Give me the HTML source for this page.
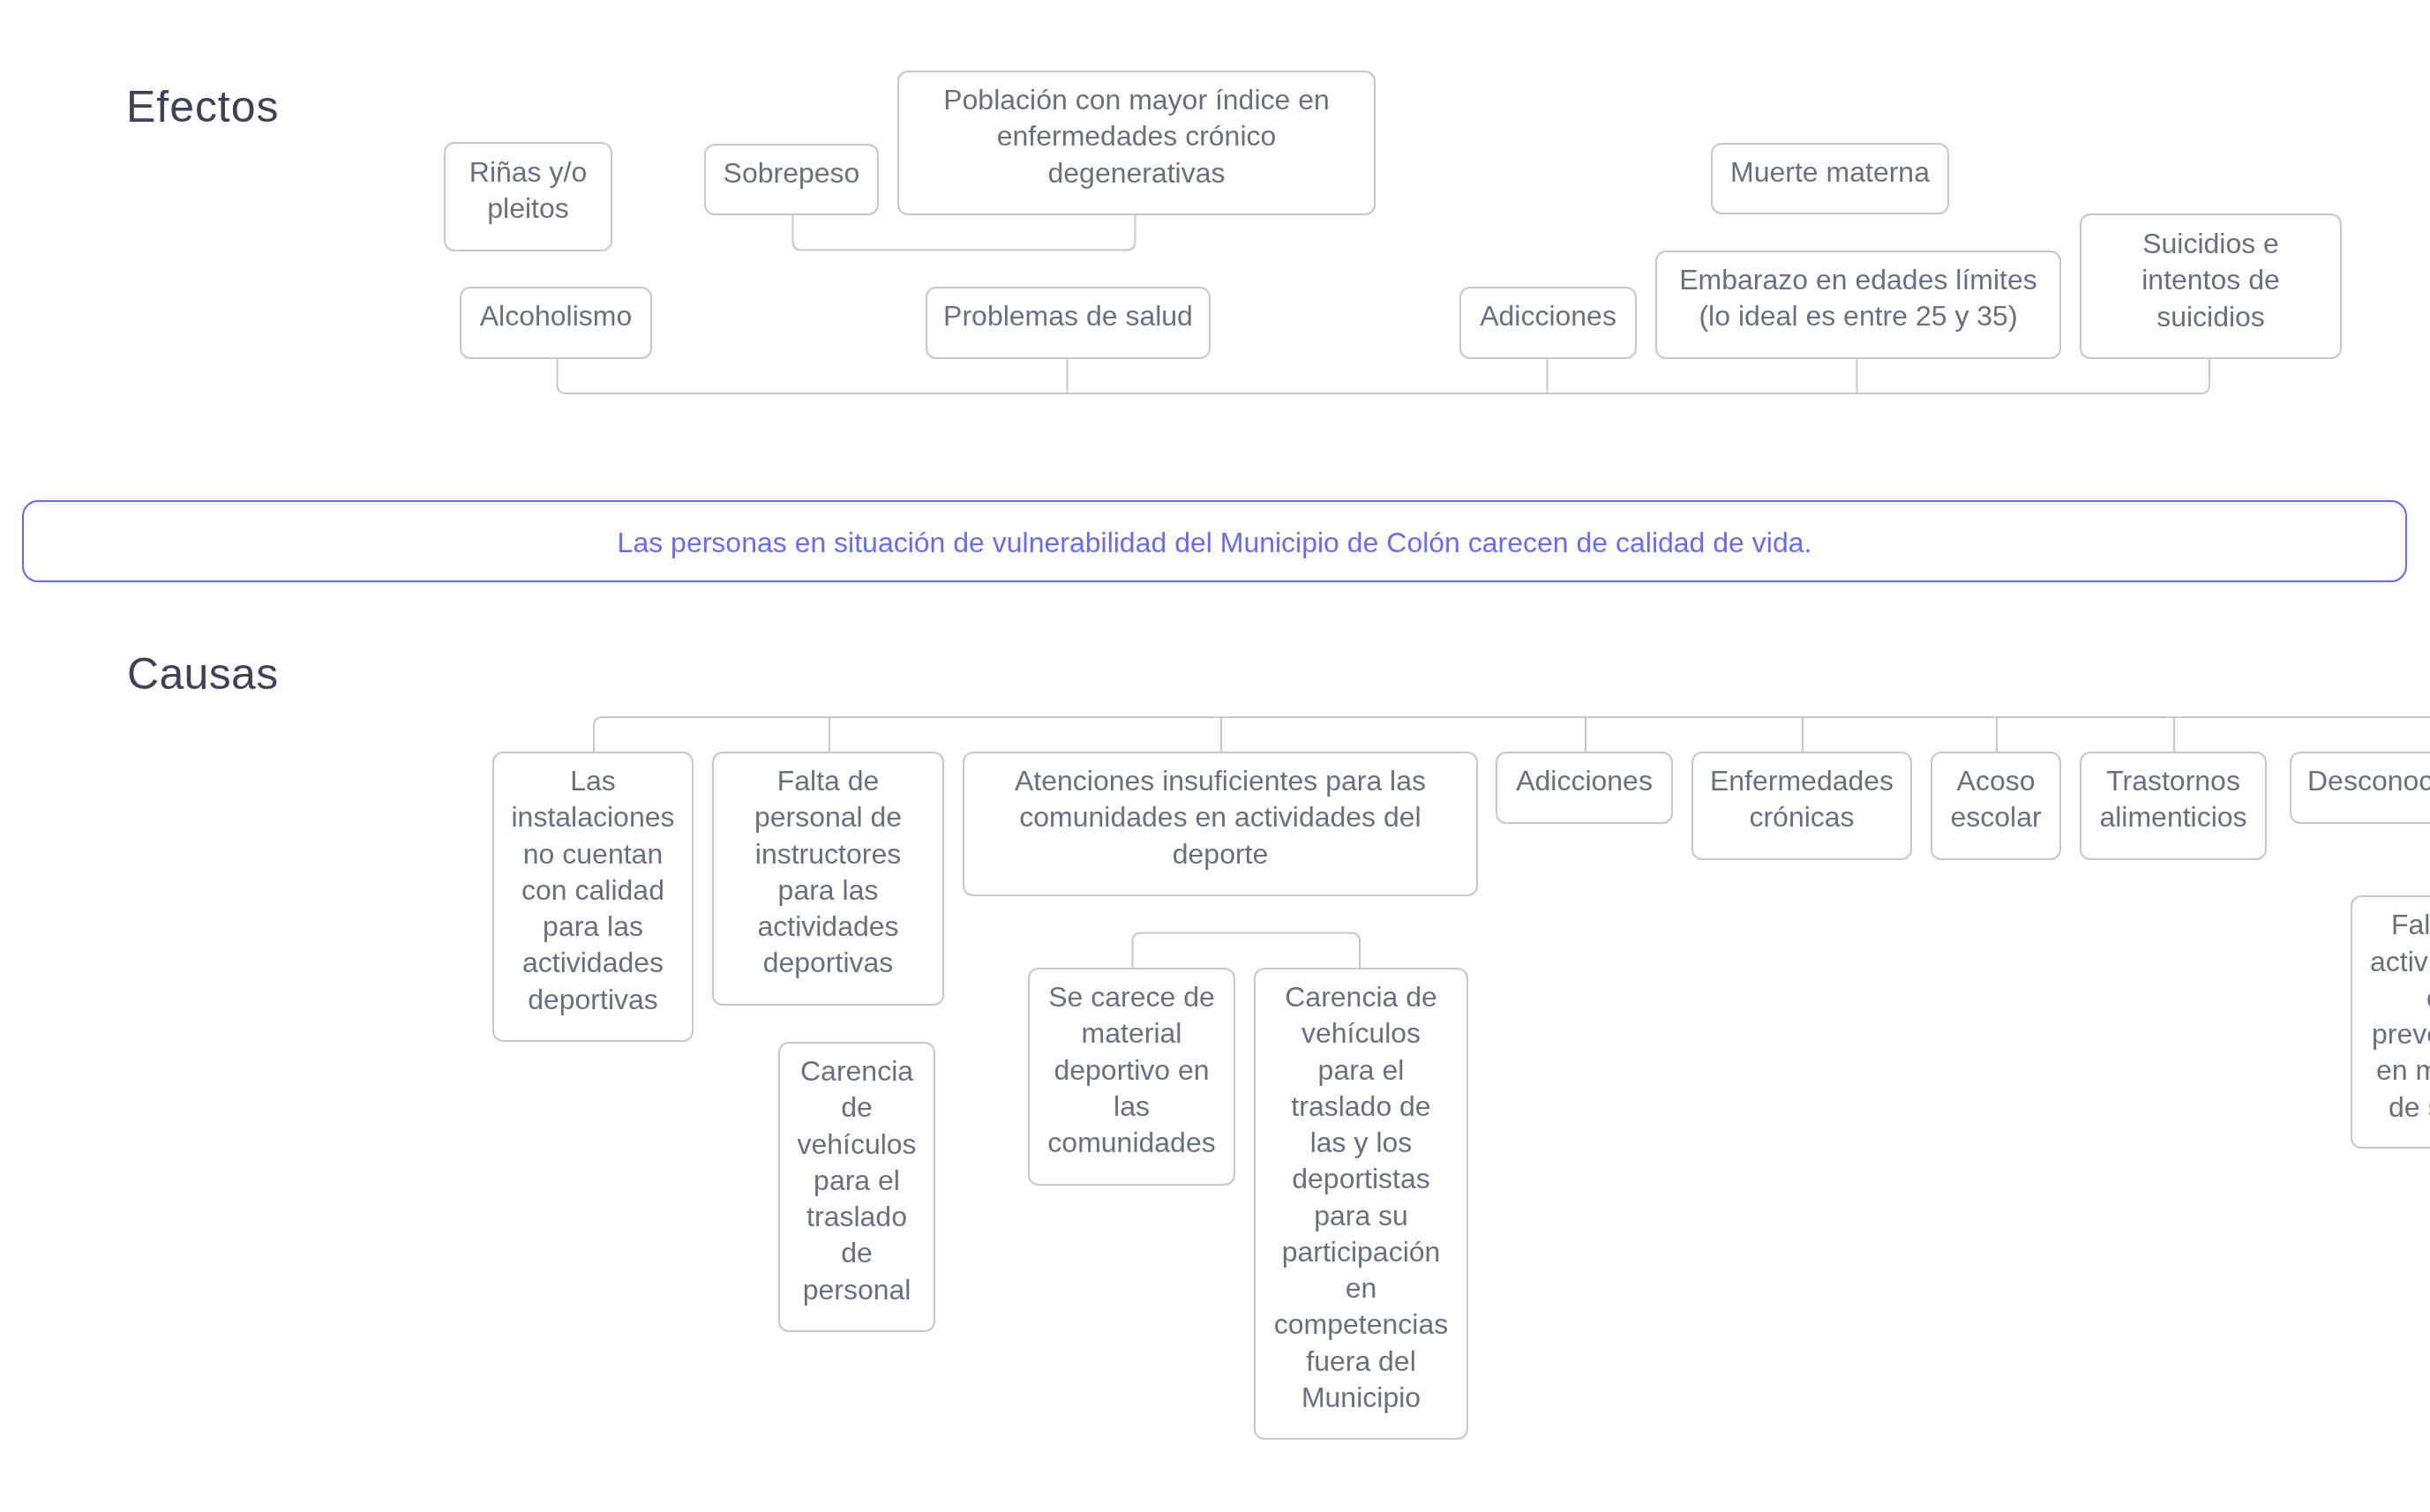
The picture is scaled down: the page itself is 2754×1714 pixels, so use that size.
<!DOCTYPE html>
<html><head><meta charset="utf-8">
<style>
html,body{margin:0;padding:0;background:#ffffff;}
body{width:2754px;height:1714px;overflow:hidden;position:relative;font-family:"Liberation Sans",sans-serif;}
.b{position:absolute;box-sizing:border-box;border:2px solid #c8c8c8;border-radius:12px;}
.t{position:absolute;white-space:nowrap;font-size:32px;line-height:41.25px;color:#696f82;text-align:center;will-change:transform;}
.h{position:absolute;white-space:nowrap;font-size:50px;line-height:60px;letter-spacing:0.95px;color:#3d4259;will-change:transform;}
svg{position:absolute;left:0;top:0;}
</style></head><body>

<svg width="2754" height="1714" viewBox="0 0 2754 1714"><g fill="none" stroke="#c8c8c8" stroke-width="2"><path d="M631.5 406 V436 Q631.5 446 641.5 446 H2494 Q2504 446 2504 436 V406"/><path d="M1209.5 406 V446"/><path d="M1753.5 406 V446"/><path d="M2104.5 406 V446"/><path d="M898.5 243 V273.5 Q898.5 283.5 908.5 283.5 H1276.5 Q1286.5 283.5 1286.5 273.5 V243"/><path d="M673 852 V823 Q673 813 683 813 H2760"/><path d="M940 813 V852"/><path d="M1384 813 V852"/><path d="M1797 813 V852"/><path d="M2043 813 V852"/><path d="M2263 813 V852"/><path d="M2464 813 V852"/><path d="M1283.5 1097 V1067.5 Q1283.5 1057.5 1293.5 1057.5 H1531 Q1541 1057.5 1541 1067.5 V1097"/></g></svg>
<div class="b" style="left:503px;top:161px;width:191px;height:124px"></div>
<div class="t" style="left:503px;top:175.29px;width:191px">Riñas y/o<br>pleitos</div>
<div class="b" style="left:798px;top:163px;width:198px;height:81px"></div>
<div class="t" style="left:798px;top:176.29px;width:198px">Sobrepeso</div>
<div class="b" style="left:1017px;top:80px;width:542px;height:164px"></div>
<div class="t" style="left:1017px;top:93.29px;width:542px">Población con mayor índice en<br>enfermedades crónico<br>degenerativas</div>
<div class="b" style="left:1939px;top:162px;width:270px;height:81px"></div>
<div class="t" style="left:1939px;top:175.29px;width:270px">Muerte materna</div>
<div class="b" style="left:521px;top:325px;width:218px;height:82px"></div>
<div class="t" style="left:521px;top:338.29px;width:218px">Alcoholismo</div>
<div class="b" style="left:1049px;top:325px;width:323px;height:82px"></div>
<div class="t" style="left:1049px;top:338.29px;width:323px">Problemas de salud</div>
<div class="b" style="left:1654px;top:325px;width:201px;height:82px"></div>
<div class="t" style="left:1654px;top:338.29px;width:201px">Adicciones</div>
<div class="b" style="left:1876px;top:284px;width:460px;height:123px"></div>
<div class="t" style="left:1876px;top:297.29px;width:460px">Embarazo en edades límites<br>(lo ideal es entre 25 y 35)</div>
<div class="b" style="left:2357px;top:242px;width:297px;height:165px"></div>
<div class="t" style="left:2357px;top:256.29px;width:297px">Suicidios e<br>intentos de<br>suicidios</div>
<div class="b" style="left:558px;top:852px;width:228px;height:329px"></div>
<div class="t" style="left:558px;top:865.29px;width:228px">Las<br>instalaciones<br>no cuentan<br>con calidad<br>para las<br>actividades<br>deportivas</div>
<div class="b" style="left:807px;top:852px;width:263px;height:288px"></div>
<div class="t" style="left:807px;top:865.29px;width:263px">Falta de<br>personal de<br>instructores<br>para las<br>actividades<br>deportivas</div>
<div class="b" style="left:1091px;top:852px;width:584px;height:164px"></div>
<div class="t" style="left:1091px;top:865.29px;width:584px">Atenciones insuficientes para las<br>comunidades en actividades del<br>deporte</div>
<div class="b" style="left:1695px;top:852px;width:201px;height:82px"></div>
<div class="t" style="left:1695px;top:865.29px;width:201px">Adicciones</div>
<div class="b" style="left:1917px;top:852px;width:250px;height:123px"></div>
<div class="t" style="left:1917px;top:865.29px;width:250px">Enfermedades<br>crónicas</div>
<div class="b" style="left:2188px;top:852px;width:148px;height:123px"></div>
<div class="t" style="left:2188px;top:865.29px;width:148px">Acoso<br>escolar</div>
<div class="b" style="left:2357px;top:852px;width:212px;height:123px"></div>
<div class="t" style="left:2357px;top:865.29px;width:212px">Trastornos<br>alimenticios</div>
<div class="b" style="left:882px;top:1181px;width:178px;height:329px"></div>
<div class="t" style="left:882px;top:1194.29px;width:178px">Carencia<br>de<br>vehículos<br>para el<br>traslado<br>de<br>personal</div>
<div class="b" style="left:1165px;top:1097px;width:235px;height:247px"></div>
<div class="t" style="left:1165px;top:1110.29px;width:235px">Se carece de<br>material<br>deportivo en<br>las<br>comunidades</div>
<div class="b" style="left:1421px;top:1097px;width:243px;height:535px"></div>
<div class="t" style="left:1421px;top:1110.29px;width:243px">Carencia de<br>vehículos<br>para el<br>traslado de<br>las y los<br>deportistas<br>para su<br>participación<br>en<br>competencias<br>fuera del<br>Municipio</div>
<div class="b" style="left:2595px;top:852px;width:400px;height:82px"></div>
<div class="t" style="left:2615.2px;top:865.29px;text-align:left">Desconocimiento</div>
<div class="b" style="left:2664px;top:1015px;width:240px;height:287px"></div>
<div class="t" style="left:2710.4px;top:1028.29px;text-align:left">Falta de</div>
<div class="t" style="left:2686.2px;top:1069.54px;text-align:left">actividades</div>
<div class="t" style="left:2749.6px;top:1110.79px;text-align:left">de</div>
<div class="t" style="left:2688px;top:1152.04px;text-align:left">prevención</div>
<div class="t" style="left:2692.7px;top:1193.29px;text-align:left">en materia</div>
<div class="t" style="left:2707.4px;top:1234.54px;text-align:left">de salud</div>
<div class="h" style="left:143px;top:90.87px">Efectos</div>
<div class="h" style="left:144px;top:733.97px;letter-spacing:0.35px">Causas</div>
<div style="position:absolute;box-sizing:border-box;left:24.5px;top:567px;width:2703px;height:93px;border:2px solid #6469f9;border-radius:18px"></div>
<div class="t" style="left:24.5px;top:595.29px;width:2703px;color:#666bf8">Las personas en situación de vulnerabilidad del Municipio de Colón carecen de calidad de vida.</div>
</body></html>
